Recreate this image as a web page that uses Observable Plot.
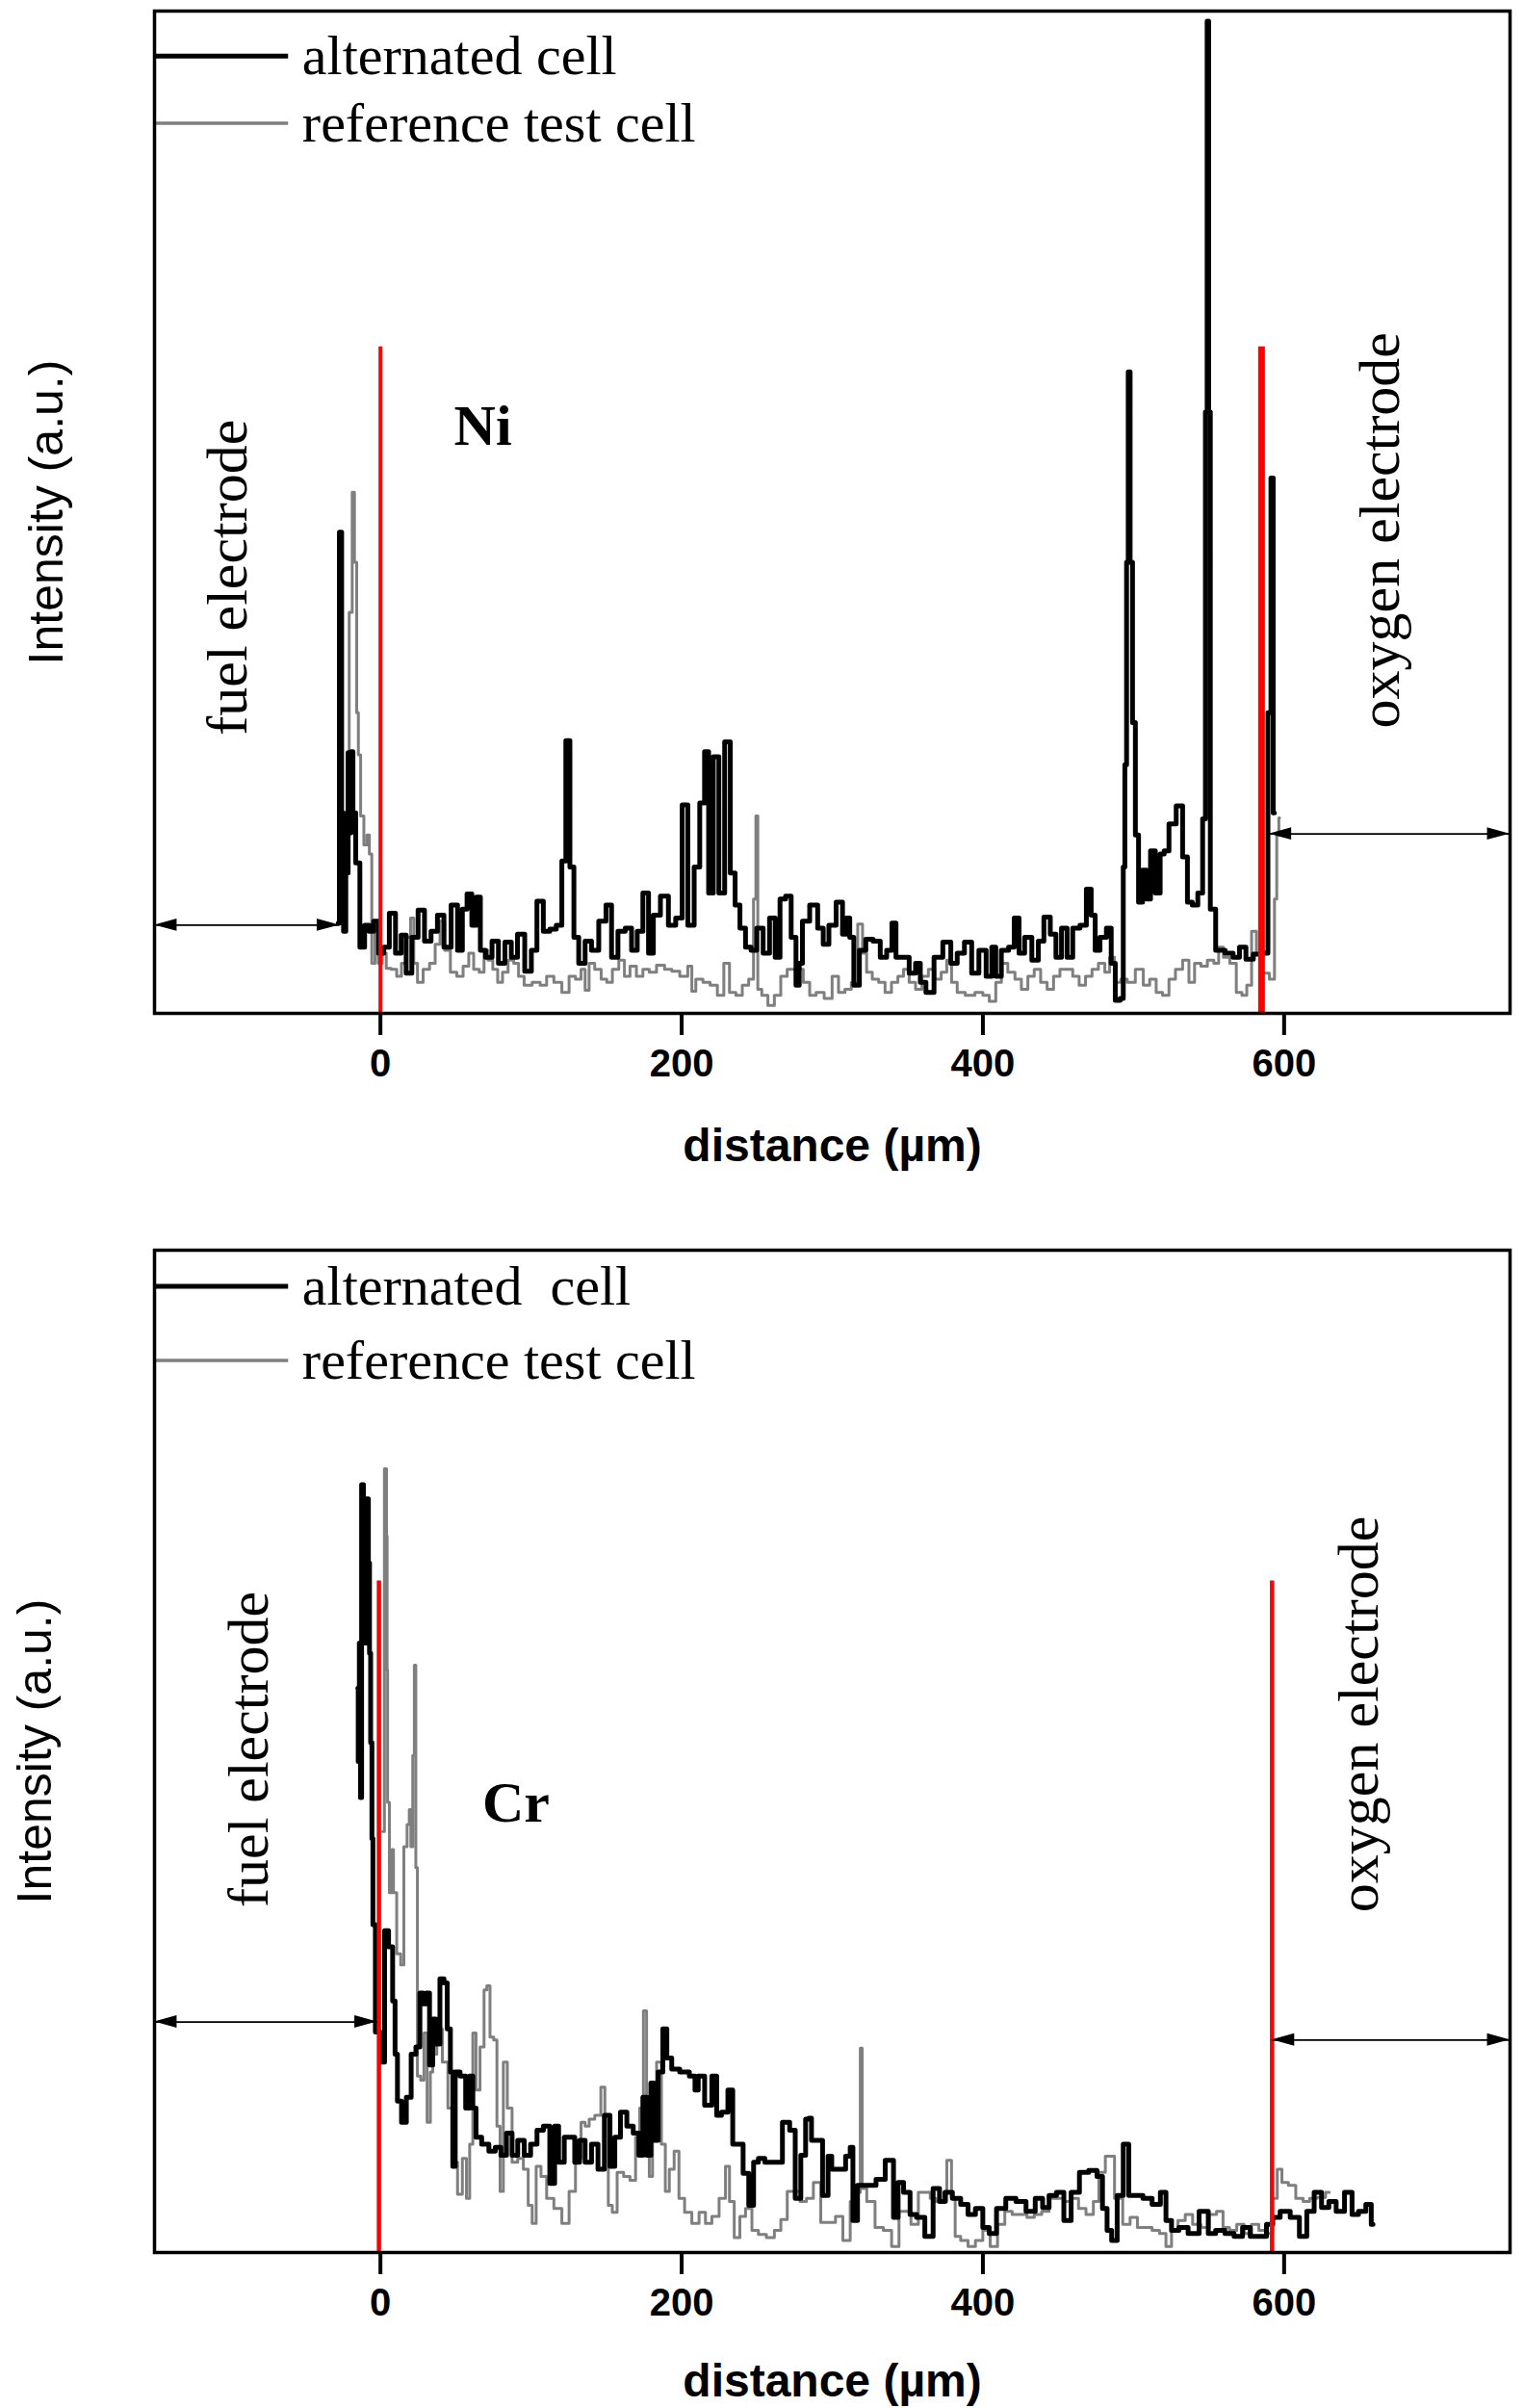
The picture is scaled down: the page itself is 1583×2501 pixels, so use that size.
<!DOCTYPE html>
<html>
<head>
<meta charset="utf-8">
<script src="https://cdn.jsdelivr.net/npm/d3@7"></script>
<script src="https://cdn.jsdelivr.net/npm/@observablehq/plot@0.6"></script>
<style>
  html, body { margin: 0; padding: 0; background: white; }
  svg { display: block; }
</style>
</head>
<body>
<script>
// ---------- data (distance in µm, intensity in arbitrary units 0–100) ----------
const tickValues = [0, 200, 400, 600];
const seriesNames = ["alternated cell", "reference test cell"];
const seriesNamesCr = ["alternated\u00a0 cell", "reference test cell"];
const elements = ["Ni", "Cr"];
const regionNames = ["fuel electrode", "oxygen electrode"];
const yLabel = "Intensity (a.u.)";
const xLabel = "distance (\u00b5m)";

// Ni profile, alternated cell
const niAlternated = [
[-28,9],[-26.5,48],[-25,20],[-24,8.2],[-22,14],[-21,26],[-20,18],[-19,26.1],[-17.5,20],[-15.3,15],[-12,6.6],[-9,8.8],[-6,8.2],[-3,9.2],[0.6,6],[3.8,6.6],[8,10],[12,6],[15.5,7.8],[18.7,4],[23,7.6],[27,10.3],[31.5,7.2],[35.7,8.2],[40,9.8],[44.3,6.6],[49.6,10.8],[52.8,6.3],[56,10.4],[59,11.9],[62.4,8.8],[65,11.6],[67.7,6.3],[72,5.6],[76.2,7.2],[80.5,5],[84.8,7.1],[89,5.6],[93,7.9],[98.6,4.2],[101.8,6.3],[106,11.2],[110.3,8.2],[114.6,8.4],[118.9,8.8],[122,15.2],[124.2,27.2],[127.4,14.6],[129.5,7.6],[133.8,5],[138,7.2],[142.3,6.3],[147.6,9.2],[151.9,10.8],[155,5.6],[160.4,8.2],[164.6,8.5],[168.9,6.3],[172.1,8.2],[176.4,12],[179.6,6],[182.8,9.8],[189,11.7],[193.4,8.8],[198.7,9.5],[202,20.8],[206.2,8.8],[210.4,14.6],[213.6,21],[216.8,26.1],[219,12],[223,25.6],[226.4,12],[230.7,27.1],[233.9,14],[237.1,10.8],[240.3,8.5],[244.5,6.6],[247.7,6.3],[252,8.5],[256.2,6],[260.5,9.5],[263.7,5.6],[266.9,11.4],[271.1,11.7],[274.3,7.6],[277.5,2.8],
[278.6,5],[281.8,9.2],[288.2,10.8],[292.4,8.5],[295.6,6.9],[299.9,8.8],[305.2,11.1],[308.4,7.9],[310.5,9.5],[312.7,7.6],[315.9,2.8],[320.1,6.3],[324.4,7.4],[329.7,7.2],[334,5.6],[338.2,6.3],[341,9],[343.6,5.6],[348.9,5.6],[353.2,4],[357.4,5],[359.5,3.1],[364.9,2.1],[370.2,5.6],[376.6,7.1],[380.8,5],[385.1,6],[390.4,7.1],[394.7,4],[400,6.3],[404.3,3.7],[407.5,6.6],[409.6,3.7],[414.9,6.3],[419.2,6.6],[422.4,9.5],[425.6,6],[429.8,7.6],[435.2,5.3],[438.4,7.2],[442.6,9.6],[446.9,7.9],[450.1,5.6],[454.3,8.5],[457.5,5.6],[461.8,8.5],[467.1,8.8],[470.3,12.4],[473.5,9.8],[475.6,6.3],[479.9,7.6],[484.1,8.5],[486.3,5],[489.5,1.3],[492.7,1.5],[493.7,14.6],[494.8,24.8],[496,45],[497,64],[498.5,45],[500.2,29],[502.3,17.8],[504.4,11.1],[507.6,14.3],[509.7,11.4],[512.9,16.2],[516.1,12],[519.3,15.9],[521.4,16.2],[525.7,18.9],[531,20.7],[534.2,15.6],[537.4,11.1],[540.6,10.8],[544.8,12],[547,19.4],[548.5,60],[549.3,99],[550.5,60],[551.5,10.4],[557.6,6.3],[564,6],[568.2,5.6],[572.5,6.6],[576.8,5.4],[582.3,5.9],[588,6],[590.5,30],[592,53.4],[593.5,20]
];

// Ni profile, reference test cell
const niReference = [
[-22,14],[-19.5,40],[-18,52],[-16.5,45],[-15,30],[-14.3,25.8],[-12,19.7],[-10,16.8],[-7.9,17.8],[-6.8,15.9],[-4.7,5],[-2.5,8.8],[-0.4,5],[2.8,6],[4.9,4.5],[9.2,4.4],[12.4,3.7],[15.5,5],[18.7,7.6],[21.3,9.5],[23,5],[26.2,3.1],[30.5,4.4],[34.7,5],[38,6.9],[41.1,9.2],[44.3,6.3],[48.6,4.1],[52.8,3.7],[57,4.7],[60.3,6],[63.5,4.4],[67.7,4.1],[69.9,6.3],[73,5.3],[76.2,4.4],[79.5,3.1],[82.6,4.1],[86.9,5.3],[90.1,5],[93.3,3.7],[97.5,2.8],[103.9,3.1],[108.2,2.8],[112.5,3.7],[117.8,3.1],[123.1,2.1],[127.4,3.7],[131.6,3.4],[134.8,4.4],[137,2.3],[140.1,5],[144.4,4.4],[148.7,3.4],[151.9,3.1],[156.1,4.4],[160.4,5.3],[163.6,3.7],[167.8,4.7],[172.1,3.7],[176.4,4.4],[180.6,4.1],[186,4.8],[191.3,4.4],[195.6,4.2],[201.9,3.7],[206.2,4.7],[207.3,2.2],[211.5,3.4],[216.8,3.1],[221,2.8],[226.4,1.8],[229.6,5],[233.9,2.1],[238.1,1.8],[242.4,2.8],[246.6,3.4],[248.8,11.4],[249.8,19.7],[251.3,2.4],[255.1,1.8],[259.4,0.8],[263.7,1.8],[267.9,3.7],[272.2,4.4],[276.4,4.4],
[278.6,4.4],[282.9,3.1],[287.1,1.8],[291.4,2.1],[297.8,1.5],[302,3.7],[306.3,2.1],[310.5,2.4],[314.8,3.1],[319,8.9],[321.2,6],[324.4,4.1],[328.7,3.4],[332.9,3.1],[337.2,2.1],[341.4,3.1],[345.7,3.7],[348.9,4.4],[353.2,3.1],[357.4,2.4],[361.7,3.7],[365.9,4.4],[370.2,3.4],[374.4,4.1],[377.6,5.3],[380.8,3.1],[385.1,2.1],[391.5,1.8],[397.9,2.1],[402.1,1.8],[406.4,1.2],[410.7,3.1],[413.9,5],[419.2,4.1],[423.4,3.4],[427.7,2.4],[432,3.7],[436.2,4.4],[440.5,3.1],[444.8,2.4],[449,3.7],[453.3,4.4],[457.5,4.4],[461.8,3.7],[466,2.8],[470.3,3.7],[474.6,4.4],[478.8,5],[483.1,4.1],[485.2,5.6],[489.5,3.1],[493.7,3.4],[498,3.1],[504.4,4.4],[508.6,2.8],[512.9,3.4],[517.2,2.1],[521.4,1.8],[525.7,3.4],[530,4.4],[535.2,5.3],[538.4,3.1],[542.7,5],[546.9,4.7],[551.2,5.3],[555.5,5],[557.6,6.6],[561.8,5.6],[566.1,5],[570.4,2.1],[573.6,1.8],[576.8,2.8],[580,8.2],[583.2,6],[587.4,4],[593,3.4],[594.2,11.4],[596,17.8],[597,19.5]
];

// Cr profile, alternated cell
const crAlternated = [
[-15,56.3],[-14.5,49],[-13.5,60.8],[-13,45.4],[-12,76.6],[-10.5,60.8],[-8.5,75.2],[-7.5,68.8],[-7,59.8],[-6,50.9],[-5.3,41.3],[-4.7,32.7],[-2,22],[1.7,19],[3.8,32.1],[7,30.5],[9.2,25.1],[10.2,19.8],[12.4,15.1],[15.6,13],[18.8,15.5],[22,19.8],[25.1,20.5],[27.3,25.9],[29.4,24.8],[31.5,25.9],[33.7,18.7],[35.8,23.3],[37.9,20.8],[41.1,27.3],[43.3,26.9],[45.4,22.3],[47.5,18],[48.6,8.6],[50.7,18],[55,17.6],[58.2,14.4],[60.3,17.6],[62.4,14.4],[64.5,11.5],[69.9,10.8],[74.1,10.1],[78.4,10.5],[81.6,9.7],[85.8,11.9],[89,9.7],[93.3,11.2],[97.6,9.7],[101.8,10.8],[106.1,12.2],[110.3,12.6],[114.6,6.9],[116.7,12.6],[119.9,9],[124.2,11.5],[127.4,11.5],[130.6,9],[133.8,11.2],[138,9],[142.3,10.8],[146.6,8.3],[150.8,13.7],[154,8.6],[157.2,11.5],[161.5,14],[165.7,12.6],[170,11.9],[173.2,9.7],[175.3,15.5],[178.5,9.7],[180.6,16.9],[182.8,11.2],[186,18],[189,22.3],[191.3,19.4],[195.5,18.3],[201.9,18],[208.3,17.6],[209.4,16.2],[212.6,17.6],[217.9,14.7],[222.2,17.6],[224.3,13.7],[228.6,14],[232.8,16.2],[235,10.8],[239.2,10.8],[242.4,7.9],[246.7,4.7],[248.8,9],[253.1,9.4],[257.3,9],[263.7,9],[270.1,13],[273.3,12.2],[277.5,5.4],[280.7,9.7],[283.9,13.3],
[285,13.4],[287.4,11.2],[291.1,11.2],[296,5.7],[298.4,9.6],[300.9,8.3],[307,8.3],[310.7,9.6],[313.1,10.5],[314.3,3.2],[319.2,6.7],[326.6,6.7],[331.5,7.3],[338.8,9.2],[342.5,3.5],[344.9,7],[349.8,6],[353.5,3.8],[358.4,3.5],[364.5,1.6],[369.4,6.4],[373,5.1],[376.7,6],[382.8,5.4],[387.7,4.8],[392.6,3.8],[397.5,4.4],[402.4,2.5],[406,1.9],[412.1,4.4],[418.3,5.4],[425.6,5.1],[431.7,4.1],[437.8,5.4],[441.5,4.5],[446.4,5.7],[451.3,6],[456.2,3.2],[461,6],[467.2,8],[473.3,8.2],[478.2,7.6],[480.6,4.4],[484.3,2.2],[486.7,1.2],[491.6,5.7],[494.8,10.8],[498.9,5.7],[503.8,5.7],[508.7,5.4],[516,4.8],[519.7,6],[523.4,3.2],[527.1,2.2],[533.2,2.5],[539.3,1.9],[547.8,4.1],[551.5,1.9],[557.6,2.2],[563.7,1.9],[569.8,1.6],[575,2.5],[580,1.6],[586,1.6],[590.6,2.8],[594.3,3.5],[600.4,4.1],[607.7,3.5],[612.6,1.6],[617.5,4.1],[622.4,6],[627.3,4.5],[632.1,5.1],[637,4.1],[643.2,6],[647,3.8],[651.8,4.1],[656.7,4.8],[659,2.8]
];

// Cr profile, reference test cell
const crReference = [
[1.5,42],[3.8,78.2],[4.3,71.5],[4.6,58.1],[4.9,44.9],[7,35.9],[8.1,40.2],[9.2,35.9],[12.4,29.8],[14.5,28.7],[16.6,40.5],[18.8,42.7],[19.5,44.2],[20.9,40.5],[22,49.6],[23,58.6],[24,38.4],[25.1,17.6],[28.4,17.2],[29.4,21.9],[32.6,13],[33.7,18],[35.8,19.8],[39,22.3],[43.2,19],[46.4,14.4],[49.6,9],[52.8,5.8],[56,9.4],[58.2,5.4],[60.3,10.8],[62.4,21.9],[64.5,16.2],[67.7,20.5],[69.9,26.2],[71.4,26.6],[74.1,21.5],[76.3,21.2],[78.4,12.6],[80.5,6.1],[82.7,19],[85.8,14.4],[89,9],[93.3,9.4],[96.5,8.3],[99.7,4.7],[101.8,2.9],[105,8.6],[108.2,7.6],[112.5,5.4],[117.8,4.4],[123.1,2.9],[127.4,6.1],[131.6,9.4],[134.8,13],[137,12.6],[140.2,13.3],[144.4,13.7],[148.3,16.5],[149.7,13.7],[152.9,4.7],[155,4],[159.3,8],[163.6,7.6],[167.8,7.2],[171,11.5],[173.2,14.4],[176,24.1],[177.4,14.4],[179.6,7.6],[181.7,16.2],[185,19],[188.1,10.8],[190.2,6.1],[193.4,8.3],[196.6,10.1],[199.8,5.4],[204.1,4],[209.4,2.9],[213.7,4],[217.9,2.9],[222.2,3.6],[227.5,5.4],[230.7,8.6],[232.8,5.1],[237,1.5],[240.3,3.6],[244.5,4.4],[248.8,2.2],[253.1,1.8],[259.4,1.5],[263.7,2.2],[268,3.3],[272.2,6.1],[276.5,6.1],[280.7,5.1],[285,5.4],
[289.9,7],[294.8,3],[299.7,3],[304.6,3.6],[309.5,1.2],[314.3,5.1],[318,6],[319.2,20.4],[320.5,6.4],[325.3,5.1],[331.5,2.5],[336.3,2.2],[342.5,0.6],[346.1,4.1],[349.8,4.1],[354.7,2.8],[359.6,6],[363.2,6],[366.9,5.4],[370.6,5.1],[374.2,5.1],[377.9,9.2],[380.4,5.4],[382.8,1.6],[387.7,1.2],[392.6,0.6],[397.5,1.2],[402.4,2.2],[407.3,0.6],[412.1,2.8],[417,4.1],[421.9,3.8],[426.8,3.8],[431.7,3.5],[436.6,3.8],[441.5,4.1],[446.4,5.4],[451.3,5.4],[456.2,5.1],[461,5.4],[466,4.4],[470.9,3.8],[475.8,5.1],[478.2,8],[484.4,9.6],[490.4,5.4],[495.3,2.8],[500.2,3.5],[505,2.5],[509.9,2.5],[514.8,2.2],[519.7,1.9],[523.4,0.6],[527.1,2.2],[531.9,3.2],[536.8,3.8],[541.7,2.8],[547.8,2.5],[552.6,3.8],[557.6,4.1],[561.3,2.5],[566.1,2.2],[571,2.8],[575.9,1.9],[580.8,2.8],[585.6,2.2],[590.5,1.9],[594.2,5.4],[596.7,8.3],[600.4,7],[605.3,6.7],[610.2,5.4],[615.1,5.1],[618.7,5.4],[625,5.5],[630,6]
];

// electrode boundaries (µm) and extents of the electrode regions
const niBoundaries = [0, 585];
const crBoundaries = [-1, 592];
const niRegions = [[-150, -27], [590, 750]];
const crRegions = [[-150, -2], [592, 750]];

// ---------- layout / style (not data) ----------
const SERIF = "Liberation Serif, Times New Roman, serif";
const SANS = "Liberation Sans, Arial, sans-serif";
const HEAD_LEN = 15;   // arrow head length in x units (~23 px)
const HEAD_HALF = 0.62; // arrow head half-width in y units (~6.5 px)

const toPts = arr => arr.map(([x, y]) => ({x, y}));

function panel(cfg) {
  const alt = toPts(cfg.alt), ref = toPts(cfg.ref);
  const rules = cfg.boundaries.map((x, i) => ({x, y1: 0, y2: cfg.redTop, w: cfg.redWidths[i]}));
  const shafts = cfg.regions.map(([a, b], i) => ({x1: a, x2: b, y: cfg.arrowY[i]}));
  // filled triangular heads, derived from the region end points
  const heads = [];
  let id = 0;
  cfg.regions.forEach(([a, b], i) => {
    const y = cfg.arrowY[i];
    [[a, a + HEAD_LEN], [b, b - HEAD_LEN]].forEach(([tip, base]) => {
      heads.push({id, x: tip, y1: y, y2: y}, {id, x: base, y1: y - HEAD_HALF, y2: y + HEAD_HALF});
      id++;
    });
  });
  const legend = cfg.names.map((name, i) => ({name, y: cfg.legendY[i], i}));
  const T = (t, x, y, o) => Plot.text([{t, x, y}], {x: "x", y: "y", text: "t", ...o});
  return Plot.plot({
    width: 1583,
    height: cfg.height,
    marginLeft: 160,
    marginRight: 15,
    marginTop: cfg.marginTop,
    marginBottom: cfg.marginBottom,
    x: {domain: [-150, 750]},
    y: {domain: [0, 100], axis: null},
    style: {background: "white", color: "black", fontFamily: SANS, overflow: "visible"},
    marks: [
      Plot.line(ref, {x: "x", y: "y", curve: "step", stroke: "#7f7f7f", strokeWidth: 3, strokeLinejoin: "round"}),
      Plot.line(alt, {x: "x", y: "y", curve: "step", stroke: "#000", strokeWidth: 5, strokeLinejoin: "round"}),
      ...rules.map(r => Plot.ruleX([r], {x: "x", y1: "y1", y2: "y2", stroke: "#ff0000", strokeWidth: r.w})),
      Plot.ruleY(shafts, {y: "y", x1: "x1", x2: "x2", stroke: "#000", strokeWidth: 1.8}),
      Plot.areaY(heads, {x: "x", y1: "y1", y2: "y2", z: "id", fill: "#000"}),
      Plot.ruleY(legend.filter(d => d.i === 0), {y: "y", x1: -150, x2: -61, stroke: "#000", strokeWidth: 5}),
      Plot.ruleY(legend.filter(d => d.i === 1), {y: "y", x1: -150, x2: -61, stroke: "#7f7f7f", strokeWidth: 3.5}),
      Plot.text(legend, {x: -52, y: "y", text: "name", textAnchor: "start", lineAnchor: "middle", fontFamily: SERIF, fontSize: 58, fill: "#000"}),
      T(cfg.element, cfg.elementPos[0], cfg.elementPos[1], {fontFamily: SERIF, fontWeight: "bold", fontSize: 60, lineAnchor: "middle"}),
      T(regionNames[0], cfg.fuelPos[0], cfg.fuelPos[1], {rotate: -90, fontFamily: SERIF, fontSize: 60, lineAnchor: "middle"}),
      T(regionNames[1], cfg.oxyPos[0], cfg.oxyPos[1], {rotate: -90, fontFamily: SERIF, fontSize: 60, lineAnchor: "middle"}),
      T(yLabel, cfg.yLabelX, 50, {rotate: -90, fontFamily: SANS, fontSize: 50, lineAnchor: "middle"}),
      T(xLabel, 300, cfg.xLabelY, {fontFamily: SANS, fontWeight: "bold", fontSize: 48, lineAnchor: "middle"}),
      Plot.axisX({ticks: tickValues, tickSize: 23, tickPadding: 14, strokeWidth: 4, fontSize: 40, fontWeight: "bold", fontFamily: SANS, label: null}),
      Plot.frame({stroke: "#000", strokeWidth: 3.5})
    ]
  });
}

document.body.append(panel({
  alt: niAlternated, ref: niReference,
  height: 1250, marginTop: 11, marginBottom: 198,
  boundaries: niBoundaries, redTop: 66.5, redWidths: [4, 7],
  regions: niRegions, arrowY: [8.8, 17.9],
  names: seriesNames, legendY: [95.5, 88.8],
  element: elements[0], elementPos: [68, 58.6],
  fuelPos: [-101, 43.5], oxyPos: [664, 48.2],
  yLabelX: -221, xLabelY: -13.3
}));

document.body.append(panel({
  alt: crAlternated, ref: crReference,
  height: 1251, marginTop: 48, marginBottom: 162,
  boundaries: crBoundaries, redTop: 67, redWidths: [4.5, 4.5],
  regions: crRegions, arrowY: [23, 21.2],
  names: seriesNamesCr, legendY: [96.4, 89.0],
  element: elements[1], elementPos: [90, 44.8],
  fuelPos: [-87, 50.2], oxyPos: [650, 53.7],
  yLabelX: -229, xLabelY: -12.9
}));
</script>
</body>
</html>
